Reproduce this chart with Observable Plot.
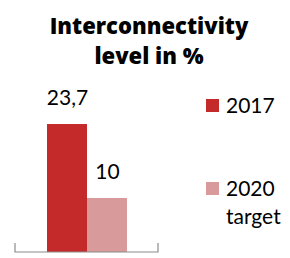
<!DOCTYPE html>
<html>
<head>
<meta charset="utf-8">
<script src="https://cdn.jsdelivr.net/npm/d3@7"></script>
<script src="https://cdn.jsdelivr.net/npm/@observablehq/plot@0.6"></script>
<style>
  html, body { margin: 0; padding: 0; background: #fff; }
  #wrap { position: relative; width: 290px; height: 258px; overflow: hidden; font-family: Lato, "Open Sans", sans-serif; color: #000; }
  #title { position: absolute; left: 4px; top: 10px; width: 290px; text-align: center; font-family: "Open Sans", sans-serif; font-weight: 800; font-size: 22px; line-height: 30px; }
  #chart { position: absolute; left: 0; top: 80px; }
  .leg { position: absolute; left: 206px; font-size: 21px; line-height: 28px; }
  .leg .sw { position: absolute; left: 0; width: 13px; height: 13px; }
  .leg .lb { position: absolute; left: 20px; white-space: nowrap; }
</style>
</head>
<body>
<div id="wrap">
  <div id="title">Interconnectivity<br>level in %</div>
  <div id="chart"></div>
  <div id="legend"></div>
</div>
<script>
const categories = ["2017", "2020 target"];
const values = [23.7, 10];
const colors = ["#c42a2a", "#d89a9a"];
const legendLabels = ["2017", "2020<br>target"];

const data = categories.map((c, i) => ({category: c, value: values[i]}));
const fmt = v => String(v).replace(".", ",");

const axisLine = (index, scales, values, dims) => {
  const y0 = scales.y(0);
  const x1 = dims.marginLeft, x2 = dims.width - dims.marginRight;
  const g = d3.create("svg:path")
    .attr("d", `M${x1},${y0 - 9}V${y0}H${x2}V${y0 - 9}`)
    .attr("fill", "none")
    .attr("stroke", "#8c8c8c")
    .attr("stroke-width", 1.2);
  return g.node();
};

const plot = Plot.plot({
  width: 170,
  height: 178,
  marginLeft: 15,
  marginRight: 12,
  marginTop: 10,
  marginBottom: 6,
  x: {domain: categories, paddingInner: 0, paddingOuter: 0.744, axis: null},
  y: {domain: [0, 30], axis: null},
  color: {domain: categories, range: colors},
  marks: [
    Plot.barY(data, {x: "category", y: "value", fill: "category"}),
    Plot.text(data, {x: "category", y: "value", text: d => fmt(d.value), dy: -26, fontSize: 21, fontFamily: "Lato, 'Open Sans', sans-serif", fill: "#000"}),
    axisLine
  ]
});
document.getElementById("chart").appendChild(plot);

const legend = document.getElementById("legend");
const tops = [91, 174];
categories.forEach((c, i) => {
  const d = document.createElement("div");
  d.className = "leg";
  d.style.top = tops[i] + "px";
  d.innerHTML = `<div class="sw" style="background:${colors[i]};top:8px"></div><div class="lb">${legendLabels[i]}</div>`;
  legend.appendChild(d);
});
</script>
</body>
</html>
